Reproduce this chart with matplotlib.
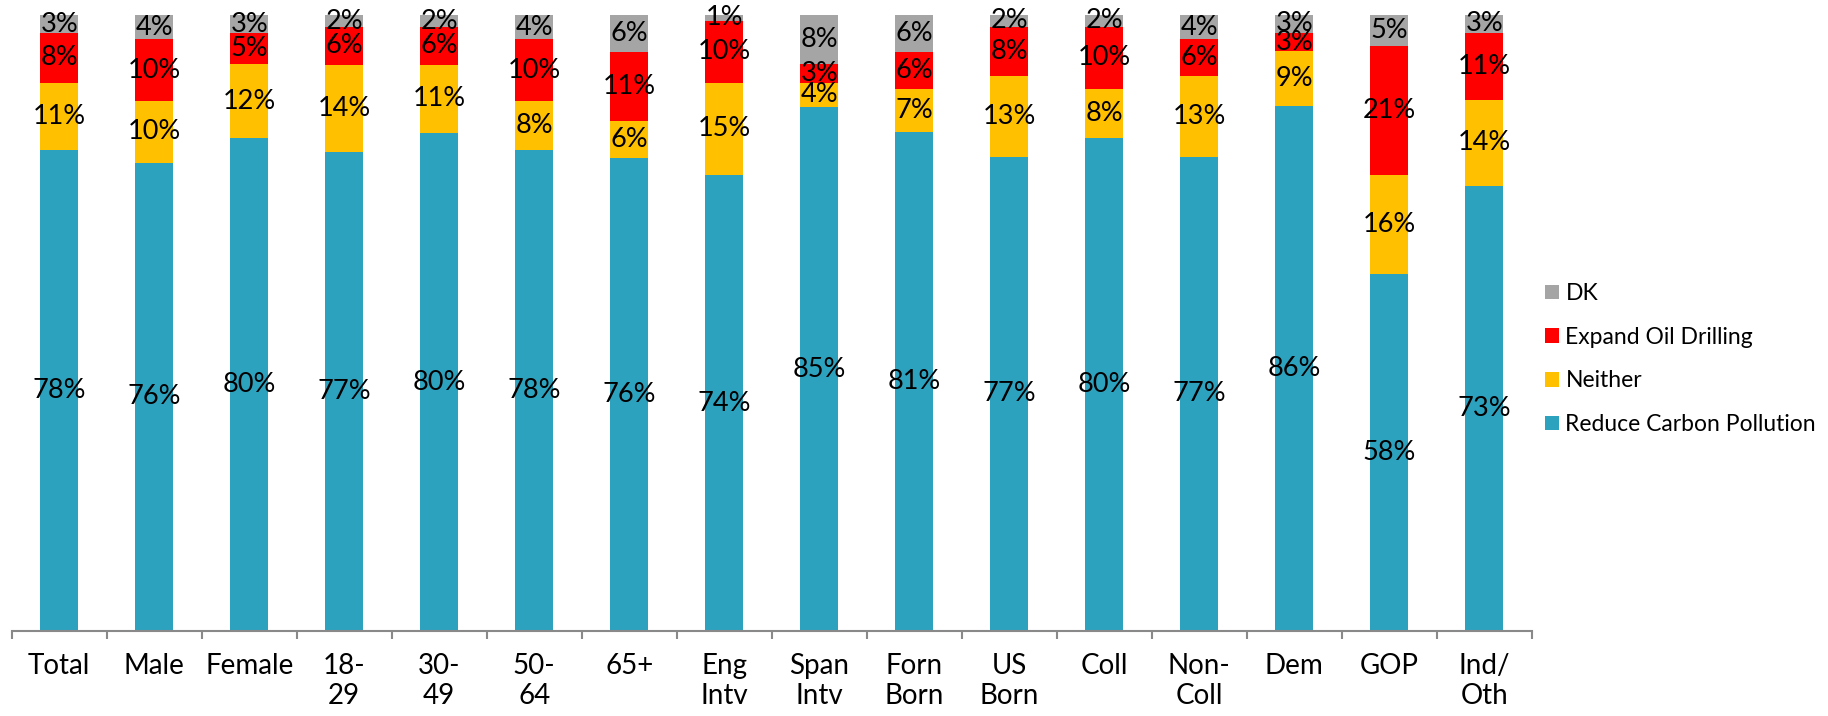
import matplotlib
matplotlib.use("Agg")
import matplotlib.pyplot as plt
import numpy as np

plt.rcParams['font.family'] = ['Lato', 'DejaVu Sans']

# groups and the four answers (percent, as printed on the chart)
groups = ["Total", "Male", "Female", "18-\n29", "30-\n49", "50-\n64", "65+",
          "Eng\nIntv", "Span\nIntv", "Forn\nBorn", "US\nBorn", "Coll",
          "Non-\nColl", "Dem", "GOP", "Ind/\nOth"]
reduce_carbon = [78, 76, 80, 77, 80, 78, 76, 74, 85, 81, 77, 80, 77, 86, 58, 73]
neither = [11, 10, 12, 14, 11, 8, 6, 15, 4, 7, 13, 8, 13, 9, 16, 14]
expand_oil = [8, 10, 5, 6, 6, 10, 11, 10, 3, 6, 8, 10, 6, 3, 21, 11]
dk = [3, 4, 3, 2, 2, 4, 6, 1, 8, 6, 2, 2, 4, 3, 5, 3]

series = [("Reduce Carbon Pollution", reduce_carbon, "#2DA2BF"),
          ("Neither", neither, "#FFC000"),
          ("Expand Oil Drilling", expand_oil, "#FF0000"),
          ("DK", dk, "#A5A5A5")]

fig = plt.figure(figsize=(18.28, 7.16), dpi=100)
ax = fig.add_axes([11.7 / 1828, 1 - 631 / 716, 1520 / 1828, 631 / 716])

x = np.arange(len(groups))
totals = np.sum([s[1] for s in series], axis=0)
bottom = np.zeros(len(groups))
handles = []
for name, vals, col in series:
    vals = np.array(vals, dtype=float)
    h = vals / totals * 100  # 100% stacked
    b = ax.bar(x, h, 0.4, bottom=bottom, color=col, label=name)
    handles.append(b)
    for xi, bi, hi, v in zip(x, bottom, h, vals):
        ax.text(xi, bi + hi / 2, "%d%%" % v, ha='center', va='center',
                fontsize=19.5, color='black')
    bottom += h

ax.set_xlim(-0.5, len(groups) - 0.5)
ax.set_ylim(0, 102.4)
ax.set_xticks(x)
ax.set_xticklabels(groups, fontsize=20, linespacing=1.2)
ax.set_xticks(np.arange(len(groups) + 1) - 0.5, minor=True)
ax.tick_params(axis='x', which='major', length=0, pad=16)
ax.tick_params(axis='x', which='minor', length=6, width=1.5, color='#898989')
ax.set_yticks([])
for side in ['top', 'right', 'left']:
    ax.spines[side].set_visible(False)
ax.spines['bottom'].set_color('#898989')
ax.spines['bottom'].set_linewidth(1.5)

fig.legend(handles[::-1], [s[0] for s in series][::-1],
           loc='upper left', bbox_to_anchor=(1545 / 1828, 1 - 283 / 716),
           frameon=False, fontsize=16.5, handlelength=0.61, handleheight=0.61,
           handletextpad=0.28, labelspacing=0.99, borderpad=0, borderaxespad=0)

fig.savefig("out.png", dpi=100)
